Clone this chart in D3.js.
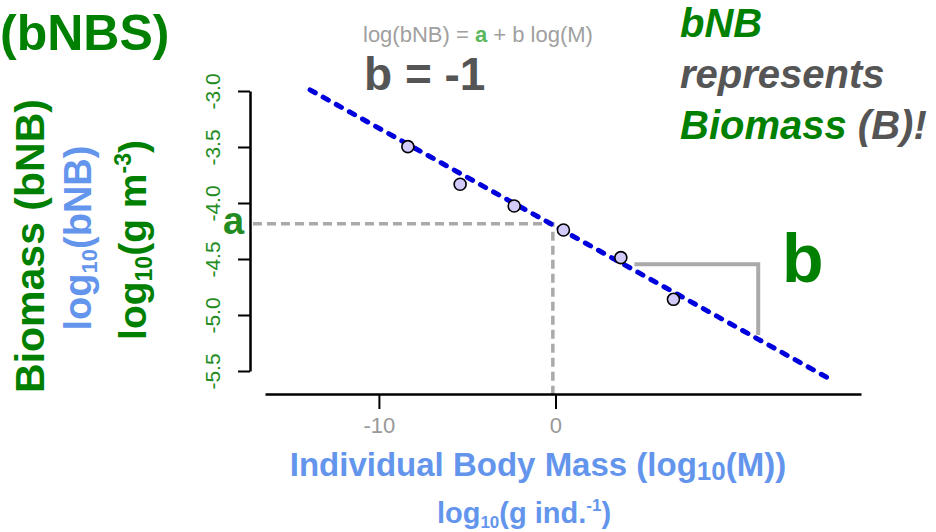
<!DOCTYPE html>
<html>
<head>
<meta charset="utf-8">
<script src="https://cdn.jsdelivr.net/npm/d3@7"></script>
<style>
  body { margin: 0; background: #fff; }
  text { font-family: "Liberation Sans", Arial, sans-serif; }
</style>
</head>
<body>
<svg id="chart" width="936" height="532"></svg>
<script>
// values
var xTicks = [-10, 0];
var yTicks = [-3.0, -3.5, -4.0, -4.5, -5.0, -5.5];
var massX = [-8.36, -5.40, -2.34, 0.45, 3.70, 6.68];     // log10(M)
var bnbY = [-3.497, -3.833, -4.027, -4.241, -4.488, -4.860]; // log10(bNB)
var fitX = [-13.9, 15.4];
var fitY = [-2.99, -5.56];
var aX = -0.15, aY = -4.185;
var slopeX = [4.47, 11.48];
var slopeY = [-4.547, -5.179];

var green = "#008000";
var green2 = "#228b22";
var blue = "#6495ed";
var grey = "#999";

var svg = d3.select('#chart');

var x = d3.scaleLinear().domain([-16.45, 17.3]).range([265, 861]);
var y = d3.scaleLinear().domain([-3, -5.5]).range([91, 371]);
var yAxisX = 250, xAxisY = 394;

var line = d3.line().x(d => x(d[0])).y(d => y(d[1]));

// intercept guides
svg.append('path')
  .attr('d', 'M' + (yAxisX + 3) + ',' + y(aY) + 'H' + x(aX) + 'V' + xAxisY)
  .attr('fill', 'none')
  .attr('stroke', '#aaa')
  .attr('stroke-width', 3.5)
  .attr('stroke-dasharray', '9,5');

// slope triangle
svg.append('path')
  .attr('d', line([[slopeX[0], slopeY[0]], [slopeX[1], slopeY[0]], [slopeX[1], slopeY[1]]]))
  .attr('fill', 'none')
  .attr('stroke', '#aaa')
  .attr('stroke-width', 4);

// axes (plain hyphen minus like the original)
var yAxis = svg.append('g')
  .attr('transform', 'translate(' + yAxisX + ',0)')
  .call(d3.axisLeft(y).tickValues(yTicks).tickSize(12).tickSizeOuter(0).tickFormat(d => d.toFixed(1)));
yAxis.selectAll('path, line').attr('stroke', '#000').attr('stroke-width', 2);
yAxis.selectAll('text')
  .attr('x', null).attr('dy', null)
  .attr('transform', 'translate(-30,0) rotate(-90)')
  .attr('text-anchor', 'middle')
  .attr('fill', green2)
  .attr('font-size', 21);

var xAxis = svg.append('g')
  .attr('transform', 'translate(0,' + xAxisY + ')')
  .call(d3.axisBottom(x).tickValues(xTicks).tickSize(15).tickSizeOuter(0).tickFormat(d => String(d)));
xAxis.selectAll('path, line').attr('stroke', '#000').attr('stroke-width', 2);
xAxis.selectAll('text')
  .attr('y', 39).attr('dy', null)
  .attr('fill', grey)
  .attr('font-size', 22);
svg.selectAll('.domain').attr('stroke-width', 2.5);

// fitted line
svg.append('path')
  .attr('d', line([[fitX[0], fitY[0]], [fitX[1], fitY[1]]]))
  .attr('fill', 'none')
  .attr('stroke', '#0000dd')
  .attr('stroke-width', 5)
  .attr('stroke-linecap', 'round')
  .attr('stroke-dasharray', '6,9');

// points
svg.append('g').selectAll('circle')
  .data(massX.map((m, i) => [m, bnbY[i]]))
  .join('circle')
  .attr('cx', d => x(d[0]))
  .attr('cy', d => y(d[1]))
  .attr('r', 6)
  .attr('fill', '#d2caf8')
  .attr('stroke', '#000')
  .attr('stroke-width', 1.6);

// labels
svg.append('text')
  .attr('x', 0).attr('y', 50)
  .attr('font-size', 50).attr('font-weight', 'bold').attr('fill', green)
  .text('(bNBS)');

svg.append('text')
  .attr('transform', 'translate(44,246) rotate(-90)')
  .attr('text-anchor', 'middle')
  .attr('font-size', 41).attr('font-weight', 'bold').attr('fill', green)
  .text('Biomass (bNB)');

var l2 = svg.append('text')
  .attr('transform', 'translate(91,238) rotate(-90)')
  .attr('text-anchor', 'middle')
  .attr('font-size', 38).attr('font-weight', 'bold').attr('fill', blue);
l2.append('tspan').text('log');
l2.append('tspan').attr('font-size', 22).attr('dy', 6).text('10');
l2.append('tspan').attr('dy', -6).text('(bNB)');

var l3 = svg.append('text')
  .attr('transform', 'translate(146,240) rotate(-90)')
  .attr('text-anchor', 'middle')
  .attr('font-size', 39).attr('font-weight', 'bold').attr('fill', green);
l3.append('tspan').text('log');
l3.append('tspan').attr('font-size', 23).attr('dy', 6).text('10');
l3.append('tspan').attr('dy', -6).text('(g m');
l3.append('tspan').attr('font-size', 23).attr('dy', -15).text('-3');
l3.append('tspan').attr('dy', 15).text(')');

var xl1 = svg.append('text')
  .attr('x', 538).attr('y', 476)
  .attr('text-anchor', 'middle')
  .attr('font-size', 33).attr('font-weight', 'bold').attr('fill', blue);
xl1.append('tspan').text('Individual Body Mass (log');
xl1.append('tspan').attr('font-size', 26).attr('dy', 4).text('10');
xl1.append('tspan').attr('dy', -4).text('(M))');

var xl2 = svg.append('text')
  .attr('x', 524).attr('y', 523)
  .attr('text-anchor', 'middle')
  .attr('font-size', 29).attr('font-weight', 'bold').attr('fill', blue);
xl2.append('tspan').text('log');
xl2.append('tspan').attr('font-size', 17).attr('dy', 5).text('10');
xl2.append('tspan').attr('dy', -5).text('(g ind.');
xl2.append('tspan').attr('font-size', 17).attr('dy', -12).text('-1');
xl2.append('tspan').attr('dy', 12).text(')');

var eq = svg.append('text')
  .attr('x', 363).attr('y', 42)
  .attr('font-size', 22).attr('fill', '#a0a0a0');
eq.append('tspan').text('log(bNB) = ');
eq.append('tspan').attr('fill', '#5cb85c').attr('font-weight', 'bold').text('a');
eq.append('tspan').text(' + b log(M)');

svg.append('text')
  .attr('x', 364).attr('y', 90)
  .attr('font-size', 46).attr('font-weight', 'bold').attr('fill', '#555')
  .text('b = -1');

svg.append('text')
  .attr('x', 223).attr('y', 234)
  .attr('font-size', 38).attr('font-weight', 'bold').attr('fill', green2)
  .text('a');

svg.append('text')
  .attr('x', 782).attr('y', 282)
  .attr('font-size', 68).attr('font-weight', 'bold').attr('fill', green)
  .text('b');

var note = [
  [['bNB', green]],
  [['represents', '#555']],
  [['Biomass ', green], ['(B)!', '#555']]
];
note.forEach(function(parts, i) {
  var t = svg.append('text')
    .attr('x', 680).attr('y', 37 + i * 51)
    .attr('font-size', 40).attr('font-weight', 'bold').attr('font-style', 'italic');
  parts.forEach(p => t.append('tspan').attr('fill', p[1]).text(p[0]));
});
</script>
</body>
</html>
